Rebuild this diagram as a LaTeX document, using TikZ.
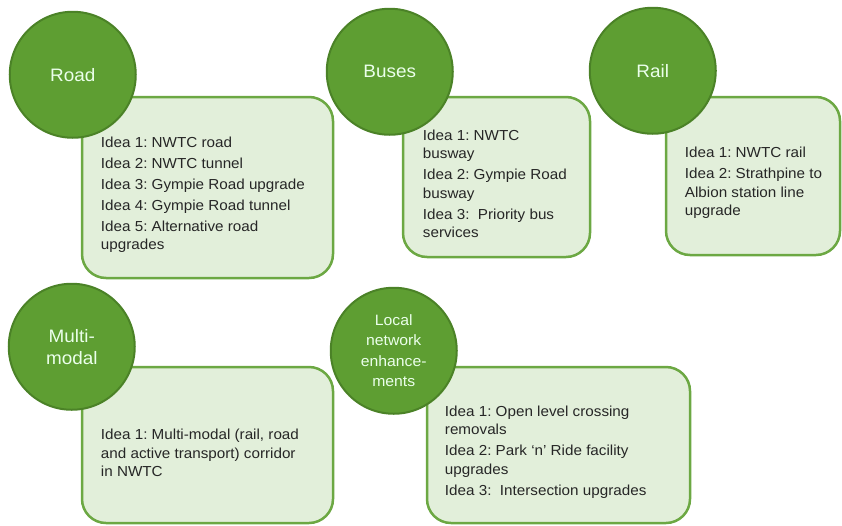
\documentclass[tikz,border=0pt]{standalone}
\usepackage{fontspec}
\setmainfont[FakeStretch=1.05]{Liberation Sans}
\usepackage{xcolor}
\frenchspacing

\definecolor{topicgreen}{HTML}{5E9E32}
\definecolor{topicline}{HTML}{4B8227}
\definecolor{boxfill}{HTML}{E2EFDA}
\definecolor{boxline}{HTML}{6CA843}

\begin{document}
\begin{tikzpicture}[x=1pt, y=-1pt,
                    idea box/.style={rectangle,rounded corners=24pt,draw=boxline,line width=2.5pt,fill=boxfill},
                    topic node/.style={circle,draw=topicline,line width=2pt,fill=topicgreen,minimum size=126pt,
                                       inner sep=0pt,align=center,text=white!92!green,font=\fontsize{18}{22}\selectfont},
                    idea text/.style={anchor=west,align=left,inner sep=0pt,text=black!85,font=\fontsize{14.5}{18.5}\selectfont}]

  \useasboundingbox (0,0) rectangle (842,525);

  % boxes first, the circles sit on their corners
  \node[idea box, minimum width=251pt, minimum height=181pt] (roadbox) at (207.5,187.5) {};
  \node[idea box, minimum width=187pt, minimum height=160pt] (busbox) at (496.5,177) {};
  \node[idea box, minimum width=174pt, minimum height=158pt] (railbox) at (753,176) {};
  \node[idea box, minimum width=251pt, minimum height=156pt] (multibox) at (207.5,445) {};
  \node[idea box, minimum width=263pt, minimum height=156pt] (localbox) at (558.5,445) {};

  \node[idea text] (roadtext) at ([xshift=20pt,yshift=-7pt]roadbox.west)
    {Idea 1: NWTC road\\[2.5pt] Idea 2: NWTC tunnel\\[2.5pt] Idea 3: Gympie Road upgrade\\[2.5pt]
     Idea 4: Gympie Road tunnel\\[2.5pt] Idea 5: Alternative road\\ upgrades};
  \node[idea text] (bustext) at ([xshift=21pt,yshift=-7pt]busbox.west)
    {Idea 1: NWTC\\ busway\\[2.5pt] Idea 2: Gympie Road\\ busway\\[2.5pt] Idea 3: \ Priority bus\\ services};
  \node[idea text] (railtext) at ([xshift=20pt,yshift=-7pt]railbox.west)
    {Idea 1: NWTC rail\\[2.5pt] Idea 2: Strathpine to\\ Albion station line\\ upgrade};
  \node[idea text] (multitext) at ([xshift=20pt,yshift=-8pt]multibox.west)
    {Idea 1: Multi-modal (rail, road\\ and active transport) corridor\\ in NWTC};
  \node[idea text] (localtext) at ([xshift=19pt,yshift=-7pt]localbox.west)
    {Idea 1: Open level crossing\\ removals\\[2.5pt] Idea 2: Park `n' Ride facility\\ upgrades\\[2.5pt]
     Idea 3: \ Intersection upgrades};

  % the topic circles
  \node[topic node] (road) at ([xshift=-8pt,yshift=21pt]roadbox.north west) {Road};
  \node[topic node] (buses) at ([xshift=-12pt,yshift=24pt]busbox.north west) {Buses};
  \node[topic node] (rail) at ([xshift=-12pt,yshift=25pt]railbox.north west) {Rail};
  \node[topic node] (multi) at ([xshift=-9pt,yshift=19pt]multibox.north west) {Multi-\\modal};
  \node[topic node, font=\fontsize{15}{20.5}\selectfont] (local) at ([xshift=-32pt,yshift=15pt]localbox.north west)
    {Local\\network\\enhance-\\ments};
\end{tikzpicture}
\end{document}
